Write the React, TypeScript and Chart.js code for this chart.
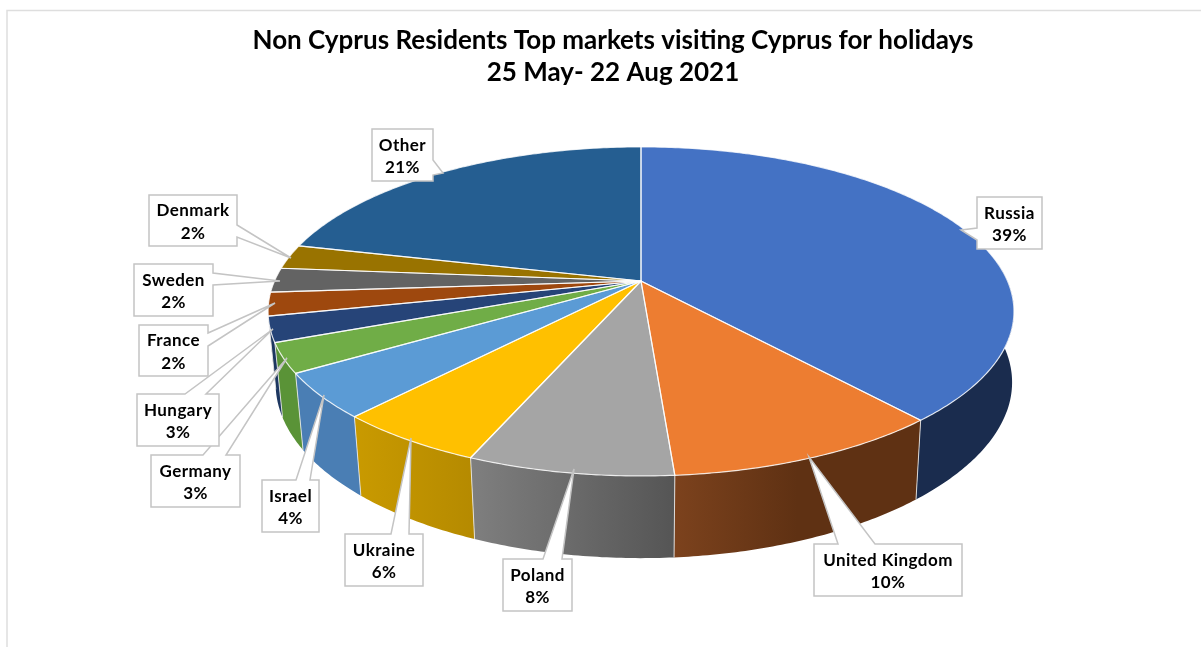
import React, { useEffect, useRef } from "react";
import { Chart, registerables } from "chart.js";

Chart.register(...registerables);

const categories = ["Russia", "United Kingdom", "Poland", "Ukraine", "Israel", "Germany", "Hungary", "France", "Sweden", "Denmark", "Other"];
const shares = [38.6, 10.2, 7.5, 5.5, 4.4, 2.9, 2.5, 2.3, 2.4, 2.4, 21.3];
const titleLines = ["Non Cyprus Residents Top markets visiting Cyprus for holidays", "25 May- 22 Aug 2021"];

const topColours = ["#4472C4", "#ED7D31", "#A5A5A5", "#FFC000", "#5B9BD5", "#70AD47", "#264478", "#9E480E", "#636363", "#997300", "#255E91"];
const wallLeft = ["#1a2c4e", "#7c421d", "#7f7f7f", "#c99a00", "#4a7eb4", "#5a9337", "#1d3760", "#5e2b08", "#3c3c3c", "#5c4500", "#163858"];
const wallRight = ["#1a2c4e", "#5f3113", "#555555", "#b58a00", "#4a7eb4", "#5a9337", "#1d3760", "#5e2b08", "#3c3c3c", "#5c4500", "#163858"];

// callout boxes: [x0, y0, x1, y1, tipX, tipY, baseAx, baseAy, baseBx, baseBy]
const callouts = [
  [977, 197, 1042, 249, 961, 230, 977, 228, 977, 240],
  [814, 544, 962, 596, 809, 457, 838, 544, 875, 544],
  [503, 559, 572, 611, 574, 469, 543, 559, 562, 559],
  [345, 534, 423, 586, 411, 438, 391, 534, 409, 534],
  [262, 480, 319, 532, 324, 395, 296, 480, 310, 480],
  [151, 455, 240, 507, 287, 358, 203, 455, 226, 455],
  [137, 394, 219, 446, 273, 329, 185, 394, 206, 394],
  [139, 325, 208, 376, 275, 303, 208, 333, 208, 346],
  [134, 264, 213, 316, 280, 281, 213, 273, 213, 285],
  [149, 195, 237, 246, 291, 258, 237, 225, 237, 237],
  [372, 129, 433, 181, 443, 173, 433, 160, 433, 175],
];

const CX = 641;
const CY = 281;
const BX = 366.5;
const BY = 158.9;
const K = -0.185;
const M = 0.02;
const H = 72.5;
const WALL_FROM = -0.12;
const WALL_TO = 2.94;

function project(angle: number, h: number) {
  const u = Math.cos(angle);
  const v = Math.sin(angle);
  const d = 1 + K * v + M * h;
  const flare = h * 6 * Math.pow(Math.max(0, u), 3);
  return { x: CX + (BX * u) / d + flare, y: CY + (BY * v + H * h) / d };
}

function rimPoints(a0: number, a1: number, h: number) {
  const n = Math.max(4, Math.ceil(Math.abs(a1 - a0) * 90));
  const pts: { x: number; y: number }[] = [];
  for (let i = 0; i <= n; i++) pts.push(project(a0 + ((a1 - a0) * i) / n, h));
  return pts;
}

const pie3d = {
  id: "pie3d",
  beforeDatasetsDraw(chart: any) {
    const ctx: CanvasRenderingContext2D = chart.ctx;
    const arcs = chart.getDatasetMeta(0).data as any[];
    ctx.save();
    ctx.strokeStyle = "#dedede";
    ctx.lineWidth = 1.5;
    ctx.beginPath();
    ctx.moveTo(7, 647);
    ctx.lineTo(7, 10.5);
    ctx.lineTo(1201, 10.5);
    ctx.stroke();

    arcs.forEach((a, i) => {
      const lo = Math.max(a.startAngle, WALL_FROM);
      const hi = Math.min(a.endAngle, WALL_TO);
      if (hi <= lo) return;
      const top = rimPoints(lo, hi, 0);
      const bot = rimPoints(lo, hi, 1);
      const xs = [...top, ...bot].map((p) => p.x);
      const g = ctx.createLinearGradient(Math.min(...xs), 0, Math.max(...xs), 0);
      g.addColorStop(0, wallLeft[i]);
      g.addColorStop(i === 1 ? 0.5 : 1, wallRight[i]);
      if (i === 1) g.addColorStop(1, wallRight[i]);
      ctx.fillStyle = g;
      ctx.beginPath();
      top.forEach((p, j) => (j ? ctx.lineTo(p.x, p.y) : ctx.moveTo(p.x, p.y)));
      bot.reverse().forEach((p) => ctx.lineTo(p.x, p.y));
      ctx.closePath();
      ctx.fill();
      if (a.startAngle > WALL_FROM) {
        const s0 = project(a.startAngle, 0);
        const s1 = project(a.startAngle, 1);
        ctx.strokeStyle = "rgba(235,235,235,0.85)";
        ctx.lineWidth = 1;
        ctx.beginPath();
        ctx.moveTo(s0.x, s0.y);
        ctx.lineTo(s1.x, s1.y);
        ctx.stroke();
      }
    });

    arcs.forEach((a, i) => {
      const pts = rimPoints(a.startAngle, a.endAngle, 0);
      ctx.beginPath();
      ctx.moveTo(CX, CY);
      pts.forEach((p) => ctx.lineTo(p.x, p.y));
      ctx.closePath();
      ctx.fillStyle = topColours[i];
      ctx.fill();
    });
    arcs.forEach((a) => {
      const pts = rimPoints(a.startAngle, a.endAngle, 0);
      ctx.beginPath();
      ctx.moveTo(CX, CY);
      pts.forEach((p) => ctx.lineTo(p.x, p.y));
      ctx.closePath();
      ctx.strokeStyle = "rgba(255,255,255,0.8)";
      ctx.lineWidth = 1.2;
      ctx.lineJoin = "round";
      ctx.stroke();
    });
    ctx.restore();
    return false;
  },
  afterDraw(chart: any) {
    const ctx: CanvasRenderingContext2D = chart.ctx;
    ctx.save();
    ctx.font = "bold 17px Lato, sans-serif";
    (ctx as any).letterSpacing = "0.45px";
    ctx.textAlign = "center";
    ctx.textBaseline = "middle";
    callouts.forEach((c, i) => {
      const [x0, y0, x1, y1, tx, ty, ax, ay, bx, by] = c;
      const corners = [
        [x0, y0],
        [x1, y0],
        [x1, y1],
        [x0, y1],
      ];
      const path: number[][] = [];
      corners.forEach((p, n) => {
        const q = corners[(n + 1) % 4];
        path.push(p);
        const onEdge = (x: number, y: number) =>
          Math.abs((q[0] - p[0]) * (y - p[1]) - (q[1] - p[1]) * (x - p[0])) < 0.5 &&
          x >= Math.min(p[0], q[0]) && x <= Math.max(p[0], q[0]) && y >= Math.min(p[1], q[1]) && y <= Math.max(p[1], q[1]);
        if (onEdge(ax, ay) && onEdge(bx, by)) {
          const da = Math.hypot(ax - p[0], ay - p[1]);
          const db = Math.hypot(bx - p[0], by - p[1]);
          const first = da < db ? [ax, ay] : [bx, by];
          const last = da < db ? [bx, by] : [ax, ay];
          path.push(first, [tx, ty], last);
        }
      });
      ctx.beginPath();
      path.forEach((p, n) => (n ? ctx.lineTo(p[0], p[1]) : ctx.moveTo(p[0], p[1])));
      ctx.closePath();
      ctx.fillStyle = "#ffffff";
      ctx.fill();
      ctx.strokeStyle = "#c4c4c4";
      ctx.lineWidth = 1.5;
      ctx.lineJoin = "miter";
      ctx.stroke();
      const mx = (x0 + x1) / 2;
      const my = (y0 + y1) / 2;
      ctx.fillStyle = "#000000";
      ctx.fillText(categories[i], mx, my - 9.5);
      ctx.fillText(`${Math.round(shares[i])}%`, mx, my + 13);
    });
    ctx.restore();
  },
};

export default function App() {
  const ref = useRef<HTMLCanvasElement>(null);
  useEffect(() => {
    document.body.style.margin = "0";
    const chart = new Chart(ref.current as HTMLCanvasElement, {
      type: "pie",
      data: {
        labels: categories,
        datasets: [{ data: shares, backgroundColor: topColours }],
      },
      options: {
        animation: false,
        responsive: false,
        layout: { padding: { left: 25 } },
        plugins: {
          legend: { display: false },
          tooltip: { enabled: false },
          title: {
            display: true,
            text: titleLines,
            color: "#000000",
            font: { family: "Lato, sans-serif", size: 26, weight: "bold", lineHeight: 1.24 },
            padding: { top: 24, bottom: 10 },
          },
        },
      },
      plugins: [pie3d],
    } as any);
    return () => chart.destroy();
  }, []);
  return <canvas ref={ref} width={1201} height={647} style={{ display: "block" }} />;
}
